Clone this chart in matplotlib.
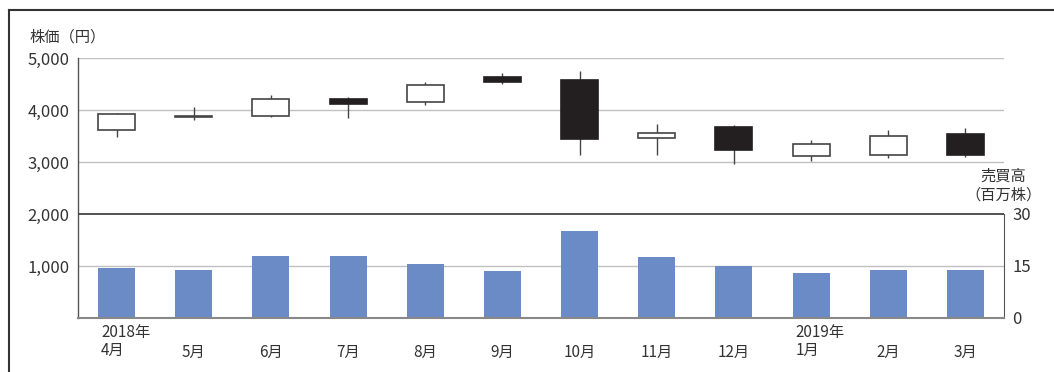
import matplotlib
matplotlib.use("Agg")
import matplotlib.pyplot as plt
from matplotlib.lines import Line2D

plt.rcParams['font.family'] = ['Noto Sans CJK JP', 'DejaVu Sans']

# Monthly candles (yen) and trading volume (million shares)
months = ['2018年\n4月', '5月', '6月', '7月', '8月', '9月', '10月', '11月', '12月',
          '2019年\n1月', '2月', '3月']
open_ = [3615, 3865, 3885, 4210, 4160, 4635, 4577, 3455, 3673, 3109, 3135, 3538]
close = [3925, 3875, 4220, 4110, 4475, 4545, 3450, 3558, 3237, 3346, 3500, 3135]
high = [3950, 4060, 4290, 4245, 4540, 4705, 4750, 3737, 3712, 3417, 3610, 3660]
low = [3490, 3810, 3860, 3840, 4090, 4495, 3140, 3140, 2968, 3019, 3071, 3090]
volume = [14.4, 13.85, 17.9, 17.9, 15.6, 13.6, 25.1, 17.6, 15.0, 13.0, 13.85, 13.85]

text_color = '#333333'
fig = plt.figure(figsize=(10.54, 3.72), dpi=100)
ax = fig.add_axes([0.074, 0.1452, 0.8786, 0.6989])
ax2 = ax.twinx()
ax.set_zorder(1)
ax2.set_zorder(2)
ax2.patch.set_visible(False)

x = list(range(len(months)))
ax.set_xlim(-0.5, len(months) - 0.5)
ax.set_ylim(0, 5000)
ax2.set_ylim(0, 75)

# grid lines
for y in [1000, 3000, 4000, 5000]:
    ax.axhline(y, color='#c0c0c0', lw=1.0, zorder=0)
ax.axhline(2000, color='#444444', lw=1.3, zorder=3)

# candlesticks
for i in x:
    o, c, h, l = open_[i], close[i], high[i], low[i]
    ax.vlines(i, l, h, color='#444444', lw=1.0, zorder=2)
    up = c >= o
    ax.bar(i, abs(c - o), bottom=min(o, c), width=0.48,
           color='white' if up else '#231f20',
           edgecolor='#444444' if up else '#231f20', lw=1.2, zorder=3)

# volume bars
ax2.bar(x, volume, width=0.48, color='#6b8bc6', zorder=2)

# axes styling
for s in ['top', 'right', 'bottom']:
    ax.spines[s].set_visible(False)
ax.spines['left'].set_color('#555555')
ax.spines['left'].set_linewidth(1.0)
for s in ['top', 'left']:
    ax2.spines[s].set_visible(False)
ax2.spines['bottom'].set_color('#888888')
ax2.spines['bottom'].set_linewidth(1.5)
ax2.spines['right'].set_color('#555555')
ax2.spines['right'].set_bounds(0, 30)

ax.set_yticks([1000, 2000, 3000, 4000, 5000])
ax.set_yticklabels(['1,000', '2,000', '3,000', '4,000', '5,000'])
ax.tick_params(axis='y', length=0, pad=6, labelsize=12, labelcolor=text_color)
ax2.set_yticks([0, 15, 30])
ax2.tick_params(axis='y', length=0, pad=6, labelsize=12, labelcolor=text_color)

ax.set_xticks(x)
ax.set_xticklabels([])
ax.tick_params(axis='x', length=0)
for i, m in enumerate(months):
    if '\n' in m:
        ax.text(i - 0.2, -0.025, m, transform=ax.get_xaxis_transform(),
                ha='left', va='top', fontsize=11, color=text_color, linespacing=1.05)
    else:
        ax.text(i, -0.1, m, transform=ax.get_xaxis_transform(),
                ha='center', va='top', fontsize=11, color=text_color)

fig.text(0.028, 0.90, '株価（円）', ha='left', va='center', fontsize=11,
         color=text_color)
fig.text(0.952, 0.50, '売買高\n（百万株）', ha='center', va='center', fontsize=11,
         color=text_color, linespacing=1.15)

# outer frame
fig.add_artist(Line2D([0.0085, 1.0], [0.973, 0.973], color='#333333', lw=1.5,
                      transform=fig.transFigure))
fig.add_artist(Line2D([0.0085, 0.0085], [0.0, 0.973], color='#333333', lw=1.5,
                      transform=fig.transFigure))

fig.savefig('out.png', dpi=100)
